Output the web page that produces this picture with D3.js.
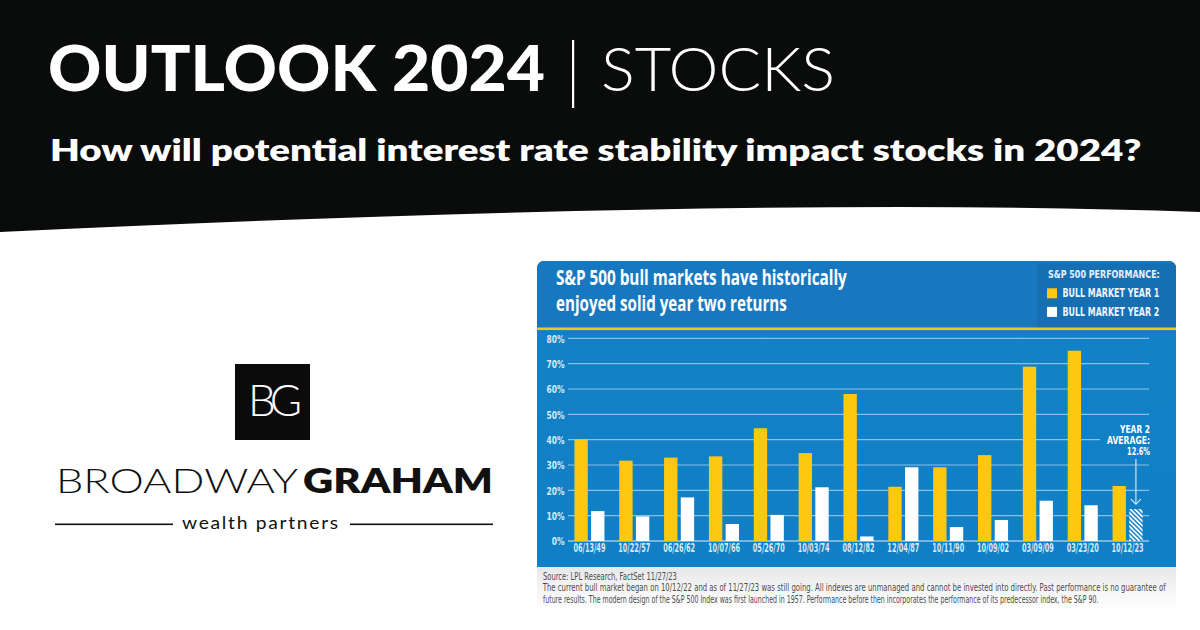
<!DOCTYPE html>
<html><head><meta charset="utf-8">
<script src="https://cdn.jsdelivr.net/npm/d3@7"></script>
<style>
html,body{margin:0;padding:0;background:#fff;}
svg{display:block;}
</style></head>
<body>
<svg id="c" width="1200" height="630"></svg>
<script>
// ---------- data ----------
const categories = ["06/13/49","10/22/57","06/26/62","10/07/66","05/26/70","10/03/74","08/12/82","12/04/87","10/11/90","10/09/02","03/09/09","03/23/20","10/12/23"];
const year1 = [40.1, 31.7, 32.9, 33.4, 44.5, 34.7, 58.0, 21.4, 29.1, 33.9, 68.8, 75.1, 21.7];
const year2 = [11.8, 9.7, 17.2, 6.7, 10.3, 21.2, 1.8, 29.1, 5.5, 8.3, 15.9, 14.1, null];
const year2Average = 12.6;
const yTicks = [0, 10, 20, 30, 40, 50, 60, 70, 80];
const seriesNames = ["BULL MARKET YEAR 1", "BULL MARKET YEAR 2"];

const svg = d3.select("#c");
const defs = svg.append("defs");

// squeeze a text horizontally to a target width, about its anchor point
function fit(sel, target) {
  sel.each(function () {
    const t = d3.select(this);
    const w = this.getComputedTextLength();
    if (!w) return;
    const k = target / w;
    const anchor = window.getComputedStyle(this).textAnchor || "start";
    const bb = this.getBBox();
    const ox = anchor === "middle" ? bb.x + bb.width / 2 : anchor === "end" ? bb.x + bb.width : bb.x;
    const prev = t.attr("transform") || "";
    t.attr("transform", `${prev} translate(${ox},0) scale(${k},1) translate(${-ox},0)`);
  });
}

// ---------- header band ----------
svg.append("path")
  .attr("d", "M0,0 H1200 V212 Q760,196 0,232 Z")
  .attr("fill", "#0a0c0b");

const condensed = "'Liberation Sans Narrow','DejaVu Sans Condensed','Arial Narrow',sans-serif";

svg.append("text").attr("x", 48).attr("y", 91)
  .attr("font-family", "Lato, 'Open Sans', sans-serif").attr("font-weight", 900)
  .attr("font-size", 62).attr("fill", "#fff")
  .text("OUTLOOK 2024").call(fit, 497);
svg.append("rect").attr("x", 572).attr("y", 40).attr("width", 2.2).attr("height", 68).attr("fill", "#fff");
svg.append("text").attr("x", 601).attr("y", 91)
  .attr("font-family", "Lato, 'Open Sans', sans-serif").attr("font-weight", 300)
  .attr("font-size", 62).attr("fill", "#fff")
  .text("STOCKS").call(fit, 234);
svg.append("text").attr("x", 50).attr("y", 161)
  .attr("font-family", "Lato, 'Open Sans', sans-serif").attr("font-weight", 800)
  .attr("font-size", 31).attr("fill", "#fff")
  .text("How will potential interest rate stability impact stocks in 2024?").call(fit, 1092);

// ---------- logo ----------
svg.append("rect").attr("x", 235).attr("y", 364).attr("width", 75).attr("height", 76).attr("fill", "#0b0b0b");
svg.append("text").attr("x", 272).attr("y", 416).attr("text-anchor", "middle")
  .attr("font-family", "Lato, sans-serif").attr("font-weight", 300)
  .attr("font-size", 44).attr("fill", "#fff").attr("letter-spacing", -6)
  .text("BG");
svg.append("text").attr("x", 56).attr("y", 493)
  .attr("font-family", "Lato, sans-serif").attr("font-weight", 300)
  .attr("font-size", 33).attr("fill", "#111")
  .text("BROADWAY").call(fit, 242);
svg.append("text").attr("x", 303).attr("y", 493)
  .attr("font-family", "Lato, sans-serif").attr("font-weight", 800)
  .attr("font-size", 33).attr("fill", "#111")
  .text("GRAHAM").call(fit, 190);
svg.append("rect").attr("x", 55).attr("y", 523.5).attr("width", 118).attr("height", 1.6).attr("fill", "#111");
svg.append("rect").attr("x", 350).attr("y", 523.5).attr("width", 143).attr("height", 1.6).attr("fill", "#111");
svg.append("text").attr("x", 182).attr("y", 529)
  .attr("font-family", "Lato, sans-serif").attr("font-weight", 400)
  .attr("font-size", 17).attr("fill", "#111").attr("letter-spacing", 1.5)
  .text("wealth partners").call(fit, 158);

// ---------- chart panel ----------
const P = {x: 537, y: 261, w: 639, h: 306};
const bgGrad = defs.append("linearGradient").attr("id", "bg").attr("x1", 0).attr("x2", 0).attr("y1", 0).attr("y2", 1);
bgGrad.append("stop").attr("offset", 0).attr("stop-color", "#0f74b9");
bgGrad.append("stop").attr("offset", 0.25).attr("stop-color", "#1381c6");
bgGrad.append("stop").attr("offset", 1).attr("stop-color", "#107fc5");

const fg = defs.append("linearGradient").attr("id", "fg").attr("x1", 0).attr("x2", 0).attr("y1", 0).attr("y2", 1);
fg.append("stop").attr("offset", 0).attr("stop-color", "#e3e3e3");
fg.append("stop").attr("offset", 0.5).attr("stop-color", "#f3f3f3");
fg.append("stop").attr("offset", 1).attr("stop-color", "#ffffff");
svg.append("rect").attr("x", P.x).attr("y", 560).attr("width", P.w).attr("height", 52).attr("fill", "url(#fg)");

const clip = defs.append("clipPath").attr("id", "panelClip");
clip.append("rect").attr("x", P.x).attr("y", P.y).attr("width", P.w).attr("height", P.h + 10).attr("rx", 7);
const panel = svg.append("g").attr("clip-path", "url(#panelClip)");
panel.append("rect").attr("x", P.x).attr("y", P.y).attr("width", P.w).attr("height", P.h).attr("fill", "url(#bg)");
panel.append("rect").attr("x", P.x).attr("y", P.y).attr("width", P.w).attr("height", 67).attr("fill", "#1878bf");
panel.append("rect").attr("x", 1037).attr("y", 263).attr("width", 139).attr("height", 65).attr("fill", "#176fb3");
panel.append("rect").attr("x", P.x).attr("y", 327.5).attr("width", P.w).attr("height", 2.6).attr("fill", "#f4c51a");

// chart title
const titleFont = "'Open Sans', Lato, sans-serif";
svg.append("text").attr("x", 556).attr("y", 285)
  .attr("font-family", titleFont).attr("font-weight", 700).attr("font-size", 20.5)
  .attr("fill", "#fff")
  .text("S&P 500 bull markets have historically").call(fit, 291);
svg.append("text").attr("x", 556).attr("y", 311)
  .attr("font-family", titleFont).attr("font-weight", 700).attr("font-size", 20.5)
  .attr("fill", "#fff")
  .text("enjoyed solid year two returns").call(fit, 231);

// legend
const colors = ["#fdc80f", "#ffffff"];
svg.append("text").attr("x", 1048).attr("y", 278.5)
  .attr("font-family", condensed).attr("font-weight", 700).attr("font-size", 10)
  .attr("fill", "#e8f1f9")
  .text("S&P 500 PERFORMANCE:").call(fit, 112);
const lg = svg.append("g").selectAll("g").data(seriesNames).join("g")
  .attr("transform", (d, i) => `translate(1047,${288.3 + i * 18.6})`);
lg.append("rect").attr("width", 10).attr("height", 10).attr("fill", (d, i) => colors[i]);
lg.append("text").attr("x", 15.5).attr("y", 9)
  .attr("font-family", condensed).attr("font-weight", 700).attr("font-size", 12)
  .attr("fill", "#eef4fa")
  .text(d => d).call(fit, 97);

// scales
const x = d3.scaleBand().domain(categories).range([567, 1150]).paddingInner(0.33).paddingOuter(0.165);
const xs = d3.scaleBand().domain([0, 1]).range([0, x.bandwidth()]).paddingInner(0.2);
const y = d3.scaleLinear().domain([0, 80]).range([541, 338.3]);

// grid
const gridG = svg.append("g");
gridG.selectAll("line").data(yTicks).join("line")
  .attr("x1", 568).attr("x2", d => d === 40 ? 1100 : 1149)
  .attr("y1", d => y(d)).attr("y2", d => y(d))
  .attr("stroke", d => d === 0 ? "rgba(255,255,255,0.85)" : "rgba(220,235,248,0.6)")
  .attr("stroke-width", 1.2);

// y axis labels
const yAxis = d3.axisLeft(y).tickValues(yTicks).tickFormat(d => d + "%").tickSize(0).tickPadding(0);
const yg = svg.append("g").attr("transform", "translate(564.5,0)").call(yAxis);
yg.select(".domain").remove();
yg.selectAll("text").attr("font-family", condensed).attr("font-weight", 700)
  .attr("font-size", 10.5).attr("fill", "#dae8f5").attr("dy", "0.36em")
  .each(function () { const w = this.getComputedTextLength(); d3.select(this).call(fit, w * 0.8); });

// x axis labels
const xAxis = d3.axisBottom(x).tickSize(0).tickPadding(0);
const xg = svg.append("g").attr("transform", "translate(0,543.5)").call(xAxis);
xg.select(".domain").remove();
xg.selectAll("text").attr("font-family", condensed).attr("font-weight", 700)
  .attr("font-size", 11.5).attr("fill", "#dae8f5").attr("dy", "0.71em")
  .call(fit, 32);

// hatch pattern
const pat = defs.append("pattern").attr("id", "hatch").attr("patternUnits", "userSpaceOnUse")
  .attr("width", 3.2).attr("height", 3.2).attr("patternTransform", "rotate(-45)");
pat.append("rect").attr("width", 3.2).attr("height", 3.2).attr("fill", "#1a82c6");
pat.append("rect").attr("width", 1.7).attr("height", 3.2).attr("fill", "#ffffff");

// bars
const barsG = svg.append("g");
barsG.selectAll("rect.y1").data(year1).join("rect").attr("class", "y1")
  .attr("x", (d, i) => x(categories[i]) + xs(0)).attr("width", xs.bandwidth())
  .attr("y", d => y(d)).attr("height", d => y(0) - y(d)).attr("fill", colors[0]);
barsG.selectAll("rect.y2").data(year2.map((v, i) => ({v, i})).filter(d => d.v != null)).join("rect").attr("class", "y2")
  .attr("x", d => x(categories[d.i]) + xs(1)).attr("width", xs.bandwidth())
  .attr("y", d => y(d.v)).attr("height", d => y(0) - y(d.v)).attr("fill", colors[1]);
const lastCat = categories[categories.length - 1];
barsG.append("rect")
  .attr("x", x(lastCat) + xs(1)).attr("width", xs.bandwidth())
  .attr("y", y(year2Average)).attr("height", y(0) - y(year2Average)).attr("fill", "url(#hatch)");

// annotation
const ax = x(lastCat) + xs(1) + xs.bandwidth() / 2;
const ann = svg.append("g").attr("font-family", condensed).attr("font-weight", 700)
  .attr("font-size", 11).attr("fill", "#ffffff").attr("text-anchor", "end");
ann.append("text").attr("x", 1150).attr("y", 433.5).text("YEAR 2").call(fit, 30);
ann.append("text").attr("x", 1150).attr("y", 444.3).text("AVERAGE:").call(fit, 43);
ann.append("text").attr("x", 1150).attr("y", 455).text(year2Average.toFixed(1) + "%").call(fit, 23);
svg.append("line").attr("x1", ax).attr("x2", ax).attr("y1", 459).attr("y2", y(year2Average) - 5)
  .attr("stroke", "#d2e5f4").attr("stroke-width", 1.2);
svg.append("path")
  .attr("d", `M${ax - 5},${y(year2Average) - 10} L${ax},${y(year2Average) - 5} L${ax + 5},${y(year2Average) - 10}`)
  .attr("fill", "none").attr("stroke", "#d2e5f4").attr("stroke-width", 1.2);

// footnote
const foot = svg.append("g").attr("font-family", condensed).attr("font-size", 10.5).attr("fill", "#4d4d4d");
foot.append("text").attr("x", 543).attr("y", 580)
  .text("Source: LPL Research, FactSet 11/27/23").call(fit, 134);
foot.append("text").attr("x", 543).attr("y", 591.5)
  .text("The current bull market began on 10/12/22 and as of 11/27/23 was still going. All indexes are unmanaged and cannot be invested into directly. Past performance is no guarantee of").call(fit, 624);
foot.append("text").attr("x", 543).attr("y", 603)
  .text("future results. The modern design of the S&P 500 Index was first launched in 1957. Performance before then incorporates the performance of its predecessor index, the S&P 90.").call(fit, 556);
</script>
</body></html>
